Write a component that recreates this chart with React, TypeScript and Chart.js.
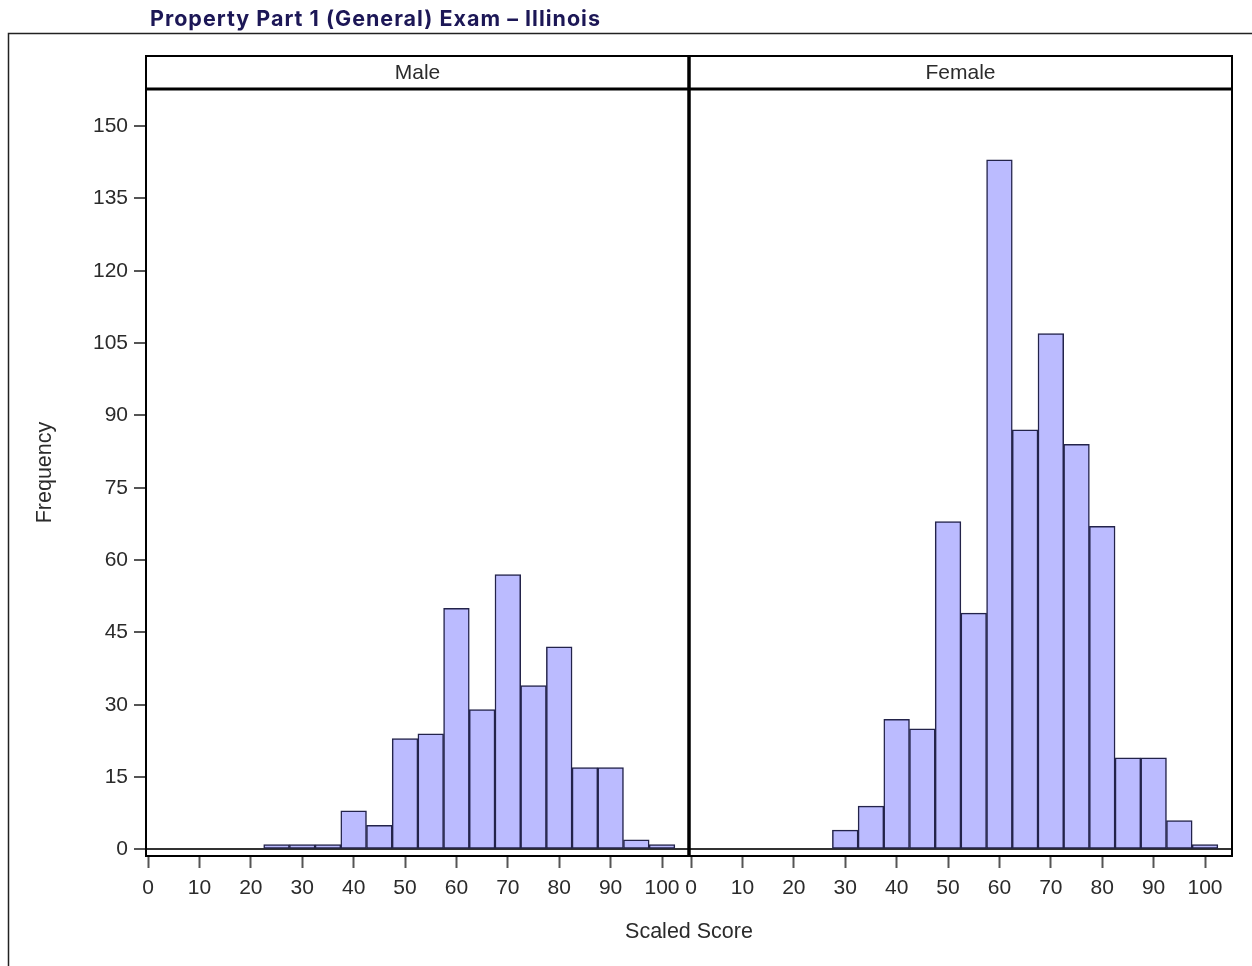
import React, { useEffect, useRef } from "react";
import { Chart, registerables } from "chart.js";

Chart.register(...registerables);

// ---- data ----
const chartTitle = "Property Part 1 (General) Exam \u2013 Illinois";
const panelLabels = ["Male", "Female"];
const xTitle = "Scaled Score";
const yTitle = "Frequency";
const binCenters = [0, 5, 10, 15, 20, 25, 30, 35, 40, 45, 50, 55, 60, 65, 70, 75, 80, 85, 90, 95, 100];
const maleCounts = [0, 0, 0, 0, 0, 1, 1, 1, 8, 5, 23, 24, 50, 29, 57, 34, 42, 17, 17, 2, 1];
const femaleCounts = [0, 0, 0, 0, 0, 0, 4, 9, 27, 25, 68, 49, 143, 87, 107, 84, 67, 19, 19, 6, 1];
const yTicks = [0, 15, 30, 45, 60, 75, 90, 105, 120, 135, 150];
const xTicks = [0, 10, 20, 30, 40, 50, 60, 70, 80, 90, 100];

const FONT = "'Liberation Sans', Arial, sans-serif";
const TEXT = "#2b2b2b";
const BAR_FILL = "#BBBBFF";
const BAR_LINE = "#23234a";

const HEADER_TOP = 56;
const TITLE_WIDTH = 450;

const framePlugin = {
  id: "framePlugin",
  afterDraw(chart: any) {
    const { ctx, chartArea } = chart;
    const xM = chart.scales.xM;
    const xF = chart.scales.xF;
    ctx.save();
    // outer frame
    ctx.strokeStyle = "#222";
    ctx.lineWidth = 1.5;
    ctx.beginPath();
    ctx.moveTo(8.5, 1000);
    ctx.lineTo(8.5, 33.5);
    ctx.lineTo(1260, 33.5);
    ctx.stroke();
    // title
    ctx.fillStyle = "#1c1756";
    ctx.font = "bold 21.5px Inter, 'Open Sans', sans-serif";
    ctx.textAlign = "left";
    ctx.textBaseline = "middle";
    const w = ctx.measureText(chartTitle).width;
    const sp = Math.max(0, (TITLE_WIDTH - w) / (chartTitle.length - 1));
    (ctx as any).letterSpacing = sp.toFixed(2) + "px";
    ctx.fillText(chartTitle, 150, 20);
    (ctx as any).letterSpacing = "0px";
    // panels
    const panels = [xM, xF];
    ctx.strokeStyle = "#000";
    panels.forEach((s: any, i: number) => {
      ctx.lineWidth = 2;
      ctx.strokeRect(s.left, HEADER_TOP, s.right - s.left, chartArea.bottom - HEADER_TOP);
      ctx.fillStyle = TEXT;
      ctx.font = "21px " + FONT;
      ctx.textAlign = "center";
      ctx.textBaseline = "middle";
      ctx.fillText(panelLabels[i], (s.left + s.right) / 2, (HEADER_TOP + chartArea.top) / 2 + 0.5);
    });
    // header bottom line
    ctx.lineWidth = 3;
    ctx.beginPath();
    ctx.moveTo(chartArea.left, chartArea.top);
    ctx.lineTo(chartArea.right, chartArea.top);
    ctx.stroke();
    // separator
    ctx.lineWidth = 3.5;
    ctx.beginPath();
    ctx.moveTo(xM.right, HEADER_TOP);
    ctx.lineTo(xM.right, chartArea.bottom);
    ctx.stroke();
    // x title
    ctx.fillStyle = TEXT;
    ctx.font = "21.5px " + FONT;
    ctx.textAlign = "center";
    ctx.textBaseline = "middle";
    ctx.fillText(xTitle, (chartArea.left + chartArea.right) / 2, 932);
    ctx.restore();
  },
};

function xScale() {
  return {
    type: "linear",
    position: "bottom",
    stack: "x",
    stackWeight: 1,
    min: -0.4,
    max: 105.25,
    offset: false,
    afterBuildTicks: (s: any) => {
      s.ticks = xTicks.map((v) => ({ value: v }));
    },
    afterFit: (s: any) => {
      s.height = 110;
    },
    ticks: {
      autoSkip: false,
      maxRotation: 0,
      minRotation: 0,
      color: TEXT,
      padding: 8,
      font: { family: FONT, size: 21 },
    },
    grid: {
      offset: false,
      drawOnChartArea: false,
      tickLength: 12,
      tickColor: "#555",
      tickWidth: 2,
    },
    border: { display: false },
  };
}

export default function App() {
  const ref = useRef<HTMLCanvasElement | null>(null);
  useEffect(() => {
    if (!ref.current) return;
    const mk = (counts: number[]) => binCenters.map((x, i) => ({ x, y: counts[i] }));
    const ds = (i: number, counts: number[], axis: string) => ({
      label: panelLabels[i],
      data: mk(counts),
      xAxisID: axis,
      yAxisID: "y",
      backgroundColor: BAR_FILL,
      borderColor: BAR_LINE,
      borderWidth: 1.5,
      borderSkipped: false,
      barPercentage: 1,
      categoryPercentage: 1,
      grouped: false,
    });
    const chart = new Chart(ref.current, {
      type: "bar",
      data: {
        datasets: [ds(0, maleCounts, "xM"), ds(1, femaleCounts, "xF")] as any,
      },
      options: {
        responsive: false,
        animation: false,
        layout: { padding: { left: 20, right: 20, top: 89, bottom: 0 } },
        plugins: {
          legend: { display: false },
          title: { display: false },
          tooltip: { enabled: false },
        },
        scales: {
          xM: xScale(),
          xF: xScale(),
          y: {
            type: "linear",
            position: "left",
            min: -1.35,
            max: 157.7,
            afterBuildTicks: (s: any) => {
              s.ticks = yTicks.map((v) => ({ value: v }));
            },
            afterFit: (s: any) => {
              s.width = 126;
            },
            ticks: {
              color: TEXT,
              padding: 6,
              font: { family: FONT, size: 21 },
            },
            grid: {
              drawOnChartArea: true,
              color: (c: any) => (c.tick && c.tick.value === 0 ? "#333" : "rgba(0,0,0,0)"),
              lineWidth: 2,
              tickLength: 12,
              tickColor: "#555",
              tickWidth: 2,
            },
            border: { display: false },
            title: {
              display: true,
              text: yTitle,
              color: TEXT,
              font: { family: FONT, size: 21.5 },
              padding: { top: 12, bottom: 0 },
            },
          },
        } as any,
      },
      plugins: [framePlugin],
    });
    return () => chart.destroy();
  }, []);
  return (
    <canvas
      ref={ref}
      width={1252}
      height={966}
      style={{ position: "absolute", left: 0, top: 0, display: "block", background: "#fff" }}
    />
  );
}
